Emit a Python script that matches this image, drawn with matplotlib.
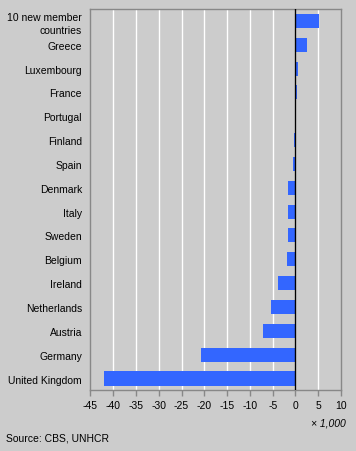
import matplotlib
matplotlib.use("Agg")
import matplotlib.pyplot as plt

plt.rcParams['font.family'] = ['Liberation Sans', 'DejaVu Sans']

countries = ["10 new member\ncountries", "Greece", "Luxembourg", "France", "Portugal",
             "Finland", "Spain", "Denmark", "Italy", "Sweden", "Belgium", "Ireland",
             "Netherlands", "Austria", "Germany", "United Kingdom"]
values = [5.2, 2.5, 0.5, 0.3, 0.0, -0.3, -0.5, -1.6, -1.6, -1.6, -1.8, -3.8,
          -5.3, -7.1, -20.7, -42.0]
xticks = list(range(-45, 11, 5))

fs = 7.5
bg = "#cccccc"
fig = plt.figure(figsize=(3.56, 4.52), dpi=100, facecolor=bg)
ax = fig.add_axes([0.254, 0.134, 0.704, 0.844], facecolor=bg)

ypos = list(range(len(countries)))
ax.barh(ypos, values, height=0.59, color="#3366ff", zorder=3)
ax.set_ylim(len(countries) - 0.5, -0.5)
ax.set_xlim(-45, 10)
ax.set_xticks(xticks)
ax.set_xticklabels([str(t) for t in xticks], fontsize=fs)
ax.set_yticks(ypos)
ax.set_yticklabels(countries, fontsize=fs, ha="right", linespacing=1.45)
ax.tick_params(axis="y", length=0, pad=6)
ax.tick_params(axis="x", length=4, width=1, color="#888888", pad=3)

for t in xticks[1:-1]:
    ax.axvline(t, color="white", lw=1, zorder=1)
ax.axvline(0, color="black", lw=1, zorder=4)

for s in ax.spines.values():
    s.set_color("#888888")
    s.set_linewidth(1)

fig.text(0.97, 0.064, "× 1,000", fontsize=fs, style="italic", ha="right", va="center")
fig.text(0.017, 0.029, "Source: CBS, UNHCR", fontsize=fs, ha="left", va="center")

fig.savefig("out.png", dpi=100, facecolor=bg)
